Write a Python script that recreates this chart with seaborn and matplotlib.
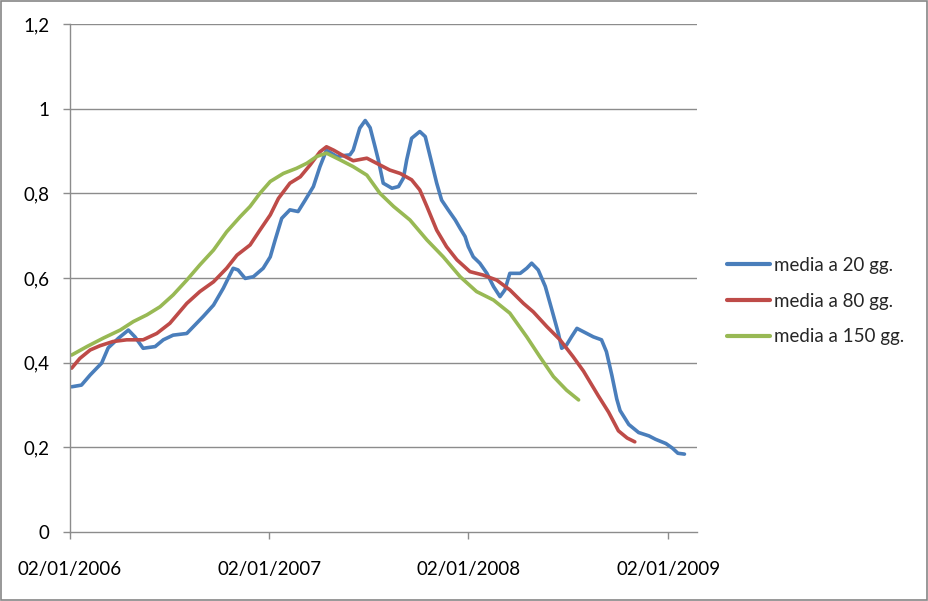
import numpy as np
import pandas as pd
import matplotlib
matplotlib.use("Agg")
import matplotlib.pyplot as plt
import matplotlib.dates as mdates
from matplotlib.patches import Rectangle
import seaborn as sns

# ---- data (days since 02/01/2006, value) ----
start_date = "2006-01-02"
series_names = ["media a 20 gg.", "media a 80 gg.", "media a 150 gg."]
colors = ["#4A7EBB", "#BE4B48", "#98B954"]

days_20 = [3, 21, 37, 58, 70, 89, 107, 119, 134, 156, 171, 189, 214, 226, 244, 263, 281, 299, 308, 321,
           336, 354, 367, 376, 388, 403, 418, 431, 446, 458, 470, 489, 513, 519, 531, 541, 550, 559, 565, 574,
           590, 602, 611, 617, 626, 641, 651, 660, 672, 681, 693, 706, 715, 724, 730, 739, 751, 764, 776, 788,
           797, 806, 825, 837, 846, 858, 871, 883, 895, 901, 910, 919, 929, 941, 959, 974, 983, 993, 1002, 1008,
           1024, 1042, 1061, 1073, 1092, 1104, 1114, 1126]
vals_20 = [0.343, 0.347, 0.371, 0.399, 0.435, 0.458, 0.477, 0.461, 0.434, 0.438, 0.454, 0.465, 0.469, 0.485,
           0.509, 0.536, 0.576, 0.623, 0.619, 0.599, 0.603, 0.623, 0.650, 0.690, 0.741, 0.761, 0.757, 0.784,
           0.816, 0.863, 0.902, 0.887, 0.891, 0.902, 0.954, 0.972, 0.955, 0.910, 0.879, 0.824, 0.812, 0.816,
           0.836, 0.879, 0.930, 0.946, 0.934, 0.887, 0.824, 0.784, 0.761, 0.737, 0.717, 0.698, 0.674, 0.650,
           0.635, 0.611, 0.580, 0.556, 0.572, 0.611, 0.611, 0.623, 0.635, 0.619, 0.580, 0.525, 0.469, 0.434,
           0.442, 0.461, 0.481, 0.473, 0.461, 0.454, 0.426, 0.370, 0.314, 0.287, 0.254, 0.235, 0.227, 0.219,
           0.209, 0.198, 0.186, 0.184]

days_80 = [3, 18, 37, 55, 79, 104, 134, 159, 183, 214, 238, 263, 287, 306, 330, 348, 367, 382, 403, 422,
           440, 458, 470, 483, 498, 519, 544, 568, 586, 605, 626, 641, 654, 672, 690, 709, 733, 757, 782, 806,
           831, 849, 874, 898, 922, 941, 968, 987, 1005, 1021, 1035]
vals_80 = [0.387, 0.410, 0.430, 0.440, 0.450, 0.454, 0.454, 0.469, 0.493, 0.540, 0.568, 0.591, 0.623, 0.654,
           0.678, 0.713, 0.749, 0.788, 0.824, 0.839, 0.867, 0.898, 0.910, 0.902, 0.891, 0.877, 0.883, 0.867,
           0.855, 0.847, 0.832, 0.808, 0.769, 0.713, 0.674, 0.643, 0.615, 0.607, 0.595, 0.572, 0.540, 0.520,
           0.485, 0.454, 0.414, 0.380, 0.322, 0.283, 0.239, 0.222, 0.213]

days_150 = [3, 31, 61, 92, 116, 141, 165, 189, 214, 238, 263, 287, 312, 330, 348, 367, 391, 415, 434, 452,
            470, 495, 519, 544, 568, 593, 623, 654, 684, 715, 745, 776, 806, 837, 861, 886, 910, 932]
vals_150 = [0.418, 0.438, 0.458, 0.477, 0.497, 0.513, 0.532, 0.560, 0.595, 0.631, 0.666, 0.709, 0.745, 0.769,
            0.800, 0.828, 0.847, 0.859, 0.871, 0.887, 0.895, 0.879, 0.863, 0.843, 0.800, 0.769, 0.737, 0.690,
            0.650, 0.603, 0.568, 0.548, 0.517, 0.461, 0.414, 0.367, 0.335, 0.312]

y_ticks = [0, 0.2, 0.4, 0.6, 0.8, 1.0, 1.2]
y_tick_labels = ["0", "0,2", "0,4", "0,6", "0,8", "1", "1,2"]
x_tick_dates = ["2006-01-02", "2007-01-02", "2008-01-02", "2009-01-02"]
x_tick_labels = ["02/01/2006", "02/01/2007", "02/01/2008", "02/01/2009"]

# ---- build long table ----
base = pd.Timestamp(start_date)
frames = []
for name, d, v in zip(series_names, [days_20, days_80, days_150], [vals_20, vals_80, vals_150]):
    frames.append(pd.DataFrame({"data": base + pd.to_timedelta(d, unit="D"), "valore": v, "serie": name}))
df = pd.concat(frames, ignore_index=True)

sns.set_style("white")
plt.rcParams["font.family"] = ["Lato", "DejaVu Sans"]

fig = plt.figure(figsize=(9.29, 6.01), dpi=100)
ax = fig.add_axes([70 / 929, 1 - 532 / 601, (697 - 70) / 929, (532 - 24) / 601])

sns.lineplot(data=df, x="data", y="valore", hue="serie", palette=colors, hue_order=series_names,
             linewidth=2.6, ax=ax, sort=False, estimator=None)

ax.set_ylim(0, 1.2)
ax.set_xlim(base, base + pd.Timedelta(days=1149))
ax.set_yticks(y_ticks)
ax.set_yticklabels(y_tick_labels)
ax.set_xticks(pd.to_datetime(x_tick_dates))
ax.set_xticklabels(x_tick_labels)
ax.set_xlabel("")
ax.set_ylabel("")

gridc = "#8C8C8C"
for yv in y_ticks[1:]:
    ax.axhline(yv, color=gridc, linewidth=1.0, zorder=0)
for s in ["top", "right"]:
    ax.spines[s].set_visible(False)
for s in ["left", "bottom"]:
    ax.spines[s].set_color(gridc)
    ax.spines[s].set_linewidth(1.0)

ax.tick_params(axis="y", which="major", direction="out", length=5, width=1, color=gridc,
               labelsize=13.5, labelcolor="black", pad=10, left=True)
ax.tick_params(axis="x", which="major", direction="out", length=5, width=1, color=gridc,
               labelsize=13.5, labelcolor="black", pad=16, bottom=True)

leg = ax.legend(loc="center left", bbox_to_anchor=((727 - 70) / 627, (532 - 301) / 508), frameon=False,
                fontsize=13.5, handlelength=2.3, handletextpad=0.2, labelspacing=1.0,
                borderaxespad=0, borderpad=0)
for line in leg.get_lines():
    line.set_linewidth(3)

fig.patches.append(Rectangle((0.001, 0.001), 0.997, 0.997, transform=fig.transFigure,
                             fill=False, edgecolor="#868686", linewidth=1.2))

fig.savefig("out.png", dpi=100)
